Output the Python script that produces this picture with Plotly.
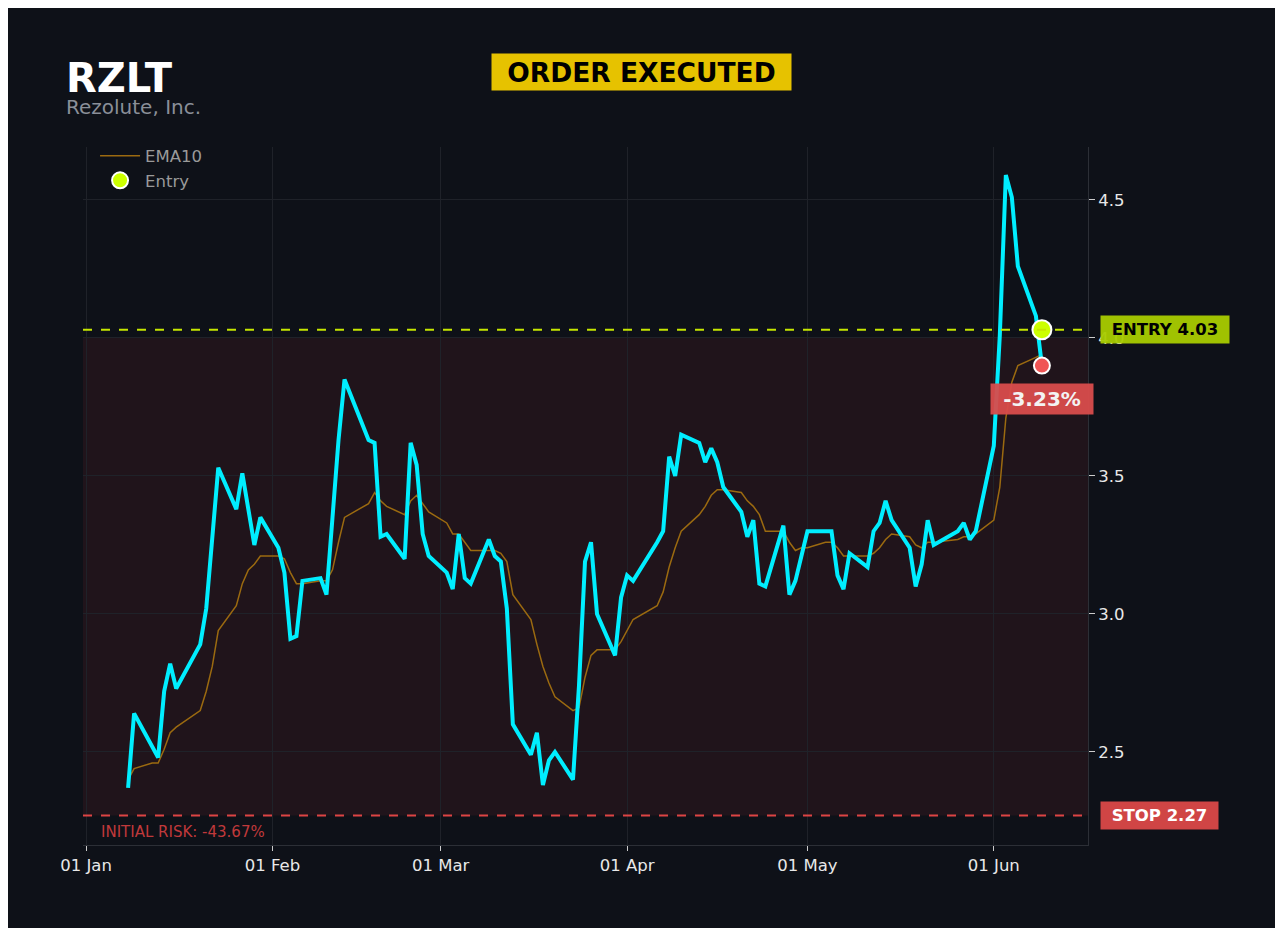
import pandas as pd
import plotly.graph_objects as go

ticker = "RZLT"
company = "Rezolute, Inc."
entry_price = 4.03
stop_price = 2.27
risk_top = 4.0

# NYSE trading days 2026 (MLK, Presidents Day, Good Friday, Memorial Day closed)
holidays = ["2026-01-19", "2026-02-16", "2026-04-03", "2026-05-25"]
dates = pd.bdate_range("2026-01-08", "2026-06-09", freq="C", holidays=holidays)

close = [
    2.37, 2.64, 2.52, 2.48, 2.72, 2.82, 2.73, 2.89, 3.02, 3.27, 3.53, 3.38, 3.51, 3.38, 3.25, 3.35,
    3.24, 3.15, 2.91, 2.92, 3.12, 3.13, 3.07, 3.35, 3.63, 3.85, 3.63, 3.62, 3.28, 3.29, 3.20, 3.62,
    3.54, 3.29, 3.21,
    3.15, 3.09, 3.29, 3.13, 3.11, 3.27, 3.21, 3.19, 3.02, 2.60, 2.49, 2.57, 2.38, 2.47, 2.50, 2.40,
    2.74, 3.19, 3.26, 3.00, 2.85, 3.06,
    3.14, 3.12, 3.26, 3.30, 3.57, 3.50, 3.65, 3.62, 3.55, 3.60, 3.55, 3.46, 3.37, 3.28, 3.34, 3.11,
    3.10, 3.32, 3.07, 3.12, 3.21,
    3.30, 3.30, 3.30, 3.14, 3.09, 3.22, 3.17, 3.30, 3.33, 3.41, 3.34, 3.24, 3.10, 3.18, 3.34, 3.25,
    3.30, 3.33, 3.27, 3.30,
    3.61, 4.01, 4.59, 4.51, 4.26, 4.08, 3.90,
]

ema10 = [
    2.40, 2.44, 2.46, 2.46, 2.51, 2.57, 2.59, 2.65, 2.72, 2.81, 2.94, 3.03, 3.11, 3.16, 3.18, 3.21,
    3.21, 3.20, 3.15, 3.11, 3.11, 3.12, 3.12, 3.16, 3.26, 3.35, 3.40, 3.44, 3.41, 3.39, 3.36, 3.41,
    3.43, 3.40, 3.37,
    3.33, 3.29, 3.29, 3.26, 3.23, 3.23, 3.23, 3.22, 3.19, 3.07, 2.98, 2.89, 2.81, 2.75, 2.70, 2.65,
    2.66, 2.77, 2.85, 2.87, 2.87, 2.90,
    2.94, 2.98, 3.03, 3.08, 3.17, 3.24, 3.30, 3.36, 3.39, 3.43, 3.45, 3.45, 3.44, 3.41, 3.39, 3.36,
    3.30, 3.30, 3.26, 3.23, 3.24,
    3.24, 3.26, 3.26, 3.24, 3.21, 3.21, 3.21, 3.22, 3.24, 3.27, 3.29, 3.28, 3.25, 3.24, 3.26, 3.26,
    3.27, 3.28, 3.28, 3.29,
    3.34, 3.46, 3.71, 3.84, 3.90, 3.93, 3.94,
]

last_date = dates[-1]
last_close = close[-1]
pnl = (last_close - entry_price) / entry_price * 100
risk = (stop_price - entry_price) / entry_price * 100

bg = "#0e1118"
grid = "#1f2229"
font = "DejaVu Sans"

fig = go.Figure()
fig.add_trace(go.Scatter(x=dates, y=ema10, mode="lines", name="EMA10",
                         line=dict(color="#9b6a10", width=1.5)))
fig.add_trace(go.Scatter(x=dates, y=close, mode="lines", showlegend=False,
                         line=dict(color="#00eeff", width=4)))
fig.add_trace(go.Scatter(x=[last_date], y=[entry_price], mode="markers", name="Entry",
                         marker=dict(color="#ccff00", size=19, line=dict(color="white", width=2))))
fig.add_trace(go.Scatter(x=[last_date], y=[last_close], mode="markers", showlegend=False,
                         marker=dict(color="#f05555", size=16, line=dict(color="white", width=2))))

fig.add_shape(type="rect", xref="paper", x0=0, x1=1, y0=stop_price, y1=risk_top,
              fillcolor="rgba(255,70,70,0.08)", line_width=0, layer="below")
fig.add_shape(type="line", xref="paper", x0=0, x1=1, y0=entry_price, y1=entry_price,
              line=dict(color="#c6e600", width=2, dash="dash"))
fig.add_shape(type="line", xref="paper", x0=0, x1=1, y0=stop_price, y1=stop_price,
              line=dict(color="#dd4444", width=2, dash="dash"))

fig.add_annotation(xref="paper", yref="paper", x=-0.019, y=1.099, xanchor="left", yanchor="middle",
                   showarrow=False, text=f"<b>{ticker}</b>", font=dict(size=40, color="white"))
fig.add_annotation(xref="paper", yref="paper", x=-0.019, y=1.057, xanchor="left", yanchor="middle",
                   showarrow=False, text=company, font=dict(size=20, color="#8a8f98"))
fig.add_annotation(xref="paper", yref="paper", x=0.556, y=1.107, xanchor="center", yanchor="middle",
                   showarrow=False, text="<b>ORDER EXECUTED</b>", font=dict(size=26.5, color="black"),
                   bgcolor="#e6c200", borderpad=2, width=295, height=32)
fig.add_annotation(xref="paper", x=1.012, y=entry_price, xanchor="left", yanchor="middle",
                   showarrow=False, text=f"<b>ENTRY {entry_price:.2f}</b>",
                   font=dict(size=16.5, color="black"), bgcolor="#a8cc00", opacity=0.95,
                   borderpad=2, width=124, height=23)
fig.add_annotation(xref="paper", x=1.012, y=stop_price, xanchor="left", yanchor="middle",
                   showarrow=False, text=f"<b>STOP {stop_price:.2f}</b>",
                   font=dict(size=16.5, color="white"), bgcolor="#d04545",
                   borderpad=2, width=113, height=23)
fig.add_annotation(xref="paper", x=0.016, y=stop_price, xanchor="left", yanchor="top", yshift=-6,
                   showarrow=False, text=f"INITIAL RISK: {risk:.2f}%",
                   font=dict(size=15, color="#c0393b"))
fig.add_annotation(x=last_date, y=3.78, xanchor="center", yanchor="middle", showarrow=False,
                   text=f"<b>{pnl:.2f}%</b>", font=dict(size=20, color="white"),
                   bgcolor="#d94c4c", opacity=0.95, borderpad=2, width=98, height=26)

# the page has an 8px body margin, so the figure is sized to sit inside it
fig.update_layout(
    width=1267, height=920,
    paper_bgcolor=bg, plot_bgcolor=bg,
    font=dict(family=font, color="#e8e8e8", size=16.5),
    margin=dict(l=75, r=187, t=139, b=83),
    legend=dict(x=0.012, y=1.012, xanchor="left", yanchor="top", bgcolor="rgba(0,0,0,0)",
                itemwidth=40, font=dict(size=16.5, color="#9a9a9a")),
    xaxis=dict(range=["2025-12-31 12:00", "2026-06-16 16:00"], dtick="M1", tickformat="%d %b",
               tick0="2026-01-01", showgrid=True, gridcolor=grid, zeroline=False,
               showline=True, linecolor="#2c2f36", ticks="outside", tickcolor="#cccccc",
               ticklen=5),
    yaxis=dict(range=[2.163, 4.692], side="right", dtick=0.5, tickformat=".1f",
               showgrid=True, gridcolor=grid, zeroline=False, showline=True,
               linecolor="#2c2f36", ticks="outside", tickcolor="#cccccc", ticklen=6),
)

fig.write_html("out.html")
